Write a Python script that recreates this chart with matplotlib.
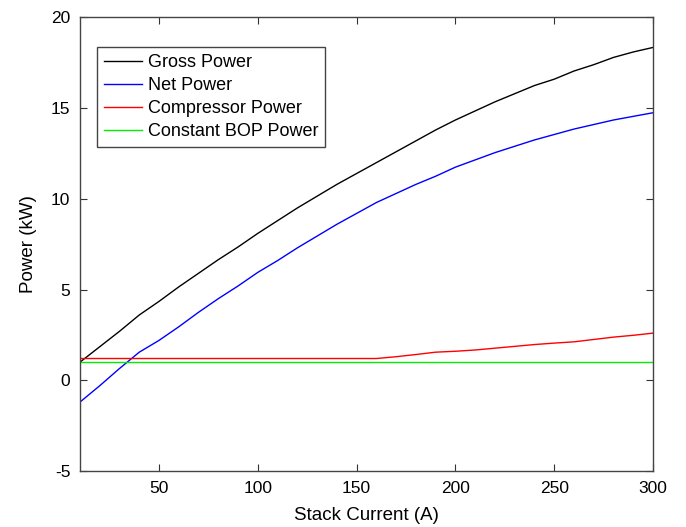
import numpy as np
import matplotlib.pyplot as plt

plt.rcParams["font.family"] = ["Liberation Sans", "DejaVu Sans"]
plt.rcParams["axes.unicode_minus"] = False

current = np.arange(10, 301, 10)

gross_power = [1.0, 1.85, 2.7, 3.6, 4.35, 5.15, 5.9, 6.65, 7.35, 8.1,
               8.8, 9.5, 10.15, 10.8, 11.4, 12.0, 12.6, 13.2, 13.8, 14.35,
               14.85, 15.35, 15.8, 16.25, 16.6, 17.05, 17.4, 17.8, 18.1, 18.35]
net_power = [-1.2, -0.3, 0.65, 1.55, 2.2, 2.95, 3.75, 4.5, 5.2, 5.95,
             6.6, 7.3, 7.95, 8.6, 9.2, 9.8, 10.3, 10.8, 11.25, 11.75,
             12.15, 12.55, 12.9, 13.25, 13.55, 13.85, 14.1, 14.35, 14.55, 14.75]
compressor_power = [1.2, 1.2, 1.2, 1.2, 1.2, 1.2, 1.2, 1.2, 1.2, 1.2,
                    1.2, 1.2, 1.2, 1.2, 1.2, 1.2, 1.3, 1.42, 1.55, 1.6,
                    1.67, 1.77, 1.87, 1.97, 2.05, 2.12, 2.25, 2.38, 2.48, 2.6]
bop_power = [1.0] * len(current)

fig = plt.figure(figsize=(6.86, 5.27), dpi=100)
ax = fig.add_axes([0.1166, 0.1063, 0.8354, 0.8605])

ax.plot(current, gross_power, color="black", lw=1.0, label="Gross Power")
ax.plot(current, net_power, color="blue", lw=1.0, label="Net Power")
ax.plot(current, compressor_power, color="red", lw=1.0, label="Compressor Power")
ax.plot(current, bop_power, color="#00ee00", lw=1.0, label="Constant BOP Power")

ax.set_xlim(10, 300)
ax.set_ylim(-5, 20)
ax.set_xticks([50, 100, 150, 200, 250, 300])
ax.set_yticks([-5, 0, 5, 10, 15, 20])
ax.tick_params(direction="in", top=True, right=True, length=5,
               labelsize=12.5, color="#333333", pad=7)
for s in ax.spines.values():
    s.set_color("#444444")
    s.set_linewidth(1.0)

ax.set_xlabel("Stack Current (A)", fontsize=13.5, labelpad=8)
ax.set_ylabel("Power (kW)", fontsize=13.5, labelpad=10)

leg = ax.legend(loc="upper left", bbox_to_anchor=(0.03, 0.935), borderaxespad=0,
                fontsize=13, fancybox=False, framealpha=1, edgecolor="#444444",
                handlelength=2.1, handletextpad=0.3, labelspacing=0.33,
                borderpad=0.4)
leg.get_frame().set_linewidth(1.0)

fig.savefig("out.png", dpi=100)
